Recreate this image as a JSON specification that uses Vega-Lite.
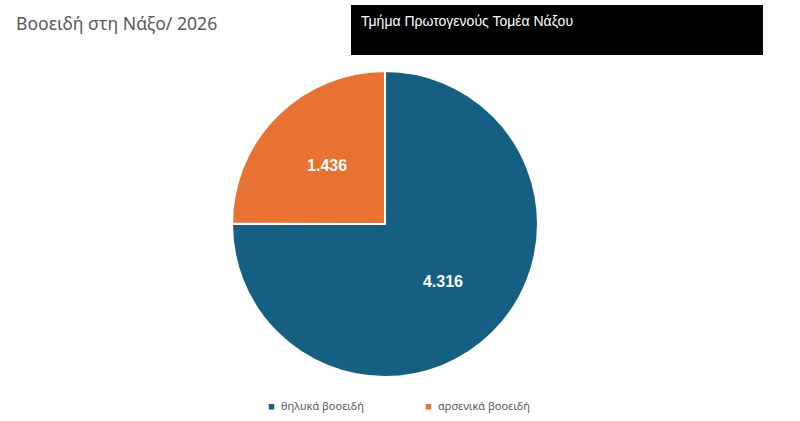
{
  "$schema": "https://vega.github.io/schema/vega-lite/v6.json",
  "width": 770,
  "height": 394,
  "autosize": "none",
  "padding": {"left": 0, "top": 27, "right": 30, "bottom": 0},
  "background": "white",
  "title": {
    "text": "Βοοειδή στη Νάξο/ 2026",
    "anchor": "start",
    "frame": "group",
    "dx": 16,
    "offset": -43,
    "baseline": "alphabetic",
    "font": "Noto Sans",
    "fontSize": 17.6,
    "fontWeight": "normal",
    "color": "#595959"
  },
  "data": {
    "values": [
      {"category": "θηλυκά βοοειδή", "value": 4316},
      {"category": "αρσενικά βοοειδή", "value": 1436}
    ]
  },
  "encoding": {
    "theta": {"field": "value", "type": "quantitative", "stack": true},
    "order": {"field": "value", "type": "quantitative", "sort": "descending"}
  },
  "layer": [
    {
      "mark": {"type": "arc", "radius": 153, "stroke": "white", "strokeWidth": 2},
      "encoding": {
        "color": {
          "field": "category",
          "type": "nominal",
          "sort": ["θηλυκά βοοειδή", "αρσενικά βοοειδή"],
          "scale": {
            "domain": ["θηλυκά βοοειδή", "αρσενικά βοοειδή"],
            "range": ["#156082", "#E97132"]
          },
          "legend": {
            "title": null,
            "orient": "none",
            "legendX": 266,
            "legendY": 374,
            "direction": "horizontal",
            "symbolType": "square",
            "symbolSize": 30,
            "symbolStrokeWidth": 0,
            "labelFont": "Noto Sans",
            "labelFontSize": 11,
            "labelColor": "#595959",
            "columnPadding": 59
          }
        }
      }
    },
    {
      "mark": {
        "type": "text",
        "radius": 82,
        "font": "Liberation Sans",
        "fontSize": 16,
        "fontWeight": "bold",
        "color": "white"
      },
      "encoding": {
        "text": {"field": "value", "type": "quantitative", "format": ",d"},
        "opacity": {
          "field": "value",
          "type": "ordinal",
          "scale": {"range": [1, 1]},
          "legend": {
            "title": "Τμήμα Πρωτογενούς Τομέα Νάξου",
            "orient": "none",
            "legendX": 351,
            "legendY": -22,
            "direction": "horizontal",
            "fillColor": "#000000",
            "padding": 10,
            "titleColor": "white",
            "titleFont": "Liberation Sans",
            "titleFontSize": 14,
            "titleFontWeight": "normal",
            "titleLimit": 400,
            "titlePadding": 15,
            "symbolSize": 0,
            "symbolStrokeWidth": 0,
            "labelExpr": "''",
            "labelFontSize": 1,
            "columnPadding": 382
          }
        }
      }
    }
  ],
  "config": {
    "view": {"stroke": null},
    "locale": {
      "number": {
        "decimal": ",",
        "thousands": ".",
        "grouping": [3],
        "currency": ["", " €"]
      }
    }
  }
}
